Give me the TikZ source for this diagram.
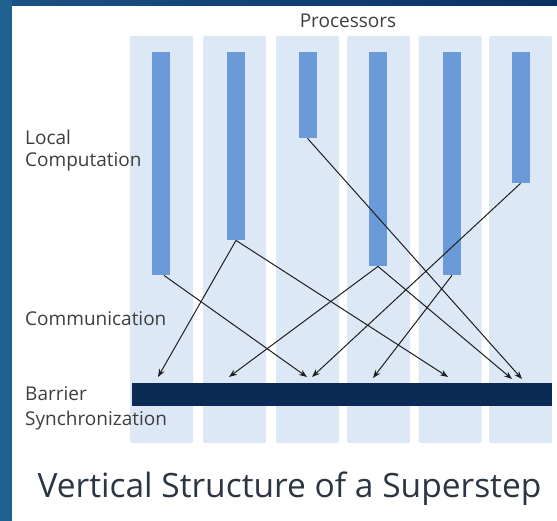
\documentclass[tikz,border=0pt]{standalone}
\usepackage{fontspec}
\setmainfont{Open Sans}
\usetikzlibrary{arrows.meta}
\definecolor{framel}{HTML}{1F6290}
\definecolor{frametl}{HTML}{1A5288}
\definecolor{frametr}{HTML}{0B2F62}
\definecolor{colfill}{HTML}{DDE8F6}
\definecolor{barfill}{HTML}{6A9BD8}
\definecolor{barrierfill}{HTML}{0C2A56}
\definecolor{labelgrey}{HTML}{3E3E3E}
\definecolor{titlegrey}{HTML}{2C3642}
\definecolor{arrowgrey}{HTML}{1E1E1E}
\tikzset{
  colbox/.style={fill=colfill, draw=none, rounded corners=1.5pt, minimum width=63pt,
    minimum height=407pt, inner sep=0pt},
  workbar/.style={fill=barfill, draw=none, minimum width=18pt, inner sep=0pt, anchor=north},
  barrierbar/.style={fill=barrierfill, draw=none, minimum width=420pt, minimum height=23pt, inner sep=0pt},
  msg/.style={draw=arrowgrey, line width=1pt, -{Stealth[length=8pt,width=6pt]}},
  sidelabel/.style={text=labelgrey, align=left, anchor=base west, inner sep=0pt},
}
\begin{document}
\begin{tikzpicture}[x=1pt,y=-1pt]
  \useasboundingbox (0,0) rectangle (557,521);
  \fill[white] (0,0) rectangle (557,521);
  % slide frame
  \shade[left color=frametl, right color=frametr] (0,0) rectangle (557,6);
  \fill[framel] (0,0) rectangle (12,521);

  % processor columns
  \node[colbox] (c1) at (161.5,239.5) {};
  \node[colbox] (c2) at (234.5,239.5) {};
  \node[colbox] (c3) at (307.5,239.5) {};
  \node[colbox] (c4) at (378.5,239.5) {};
  \node[colbox] (c5) at (450,239.5) {};
  \node[colbox] (c6) at (520.5,239.5) {};

  % local computation bars
  \node[workbar, minimum height=223pt] (b1) at (161,52) {};
  \node[workbar, minimum height=188pt] (b2) at (236,52) {};
  \node[workbar, minimum height=86pt]  (b3) at (307.5,52) {};
  \node[workbar, minimum height=214pt] (b4) at (378,52) {};
  \node[workbar, minimum height=223pt] (b5) at (452,52) {};
  \node[workbar, minimum height=131pt] (b6) at (520.5,52) {};

  % barrier
  \node[barrierbar] (barrier) at (342,394.5) {};

  % message destinations just above the barrier
  \coordinate (t1) at (158,377);
  \coordinate (t2) at (229,377);
  \coordinate (t3) at (307,377);
  \coordinate (t4) at (312,377);
  \coordinate (t5) at (373,378);
  \coordinate (t6) at (448,377);
  \coordinate (t7) at (512,379);
  \coordinate (t8) at (522,379);

  % communication
  \draw[msg] ([xshift=3pt]b1.south) -- (t3);
  \draw[msg] (b2.south) -- (t1);
  \draw[msg] (b2.south) -- (t6);
  \draw[msg] (b3.south) -- (t8);
  \draw[msg] (b4.south) -- (t2);
  \draw[msg] (b4.south) -- (t7);
  \draw[msg] (b5.south) -- (t5);
  \draw[msg] (b6.south) -- (t4);

  % labels (base anchor sits on the last line)
  \node[text=labelgrey, font=\fontsize{19}{21}\selectfont, anchor=base, inner sep=0pt] (proc) at (348,28) {Processors};
  \node[sidelabel, font=\fontsize{19}{22}\selectfont] (lc) at (25,167) {Local\\Computation};
  \node[sidelabel, font=\fontsize{19}{21}\selectfont] (comm) at (25,326) {Communication};
  \node[sidelabel, font=\fontsize{19}{25}\selectfont] (bs) at (25,425) {Barrier\\Synchronization};
  \node[text=titlegrey, font=\fontsize{33.5}{38}\selectfont, anchor=base, inner sep=0pt] (title) at (289.5,497) {Vertical Structure of a Superstep};
\end{tikzpicture}
\end{document}
